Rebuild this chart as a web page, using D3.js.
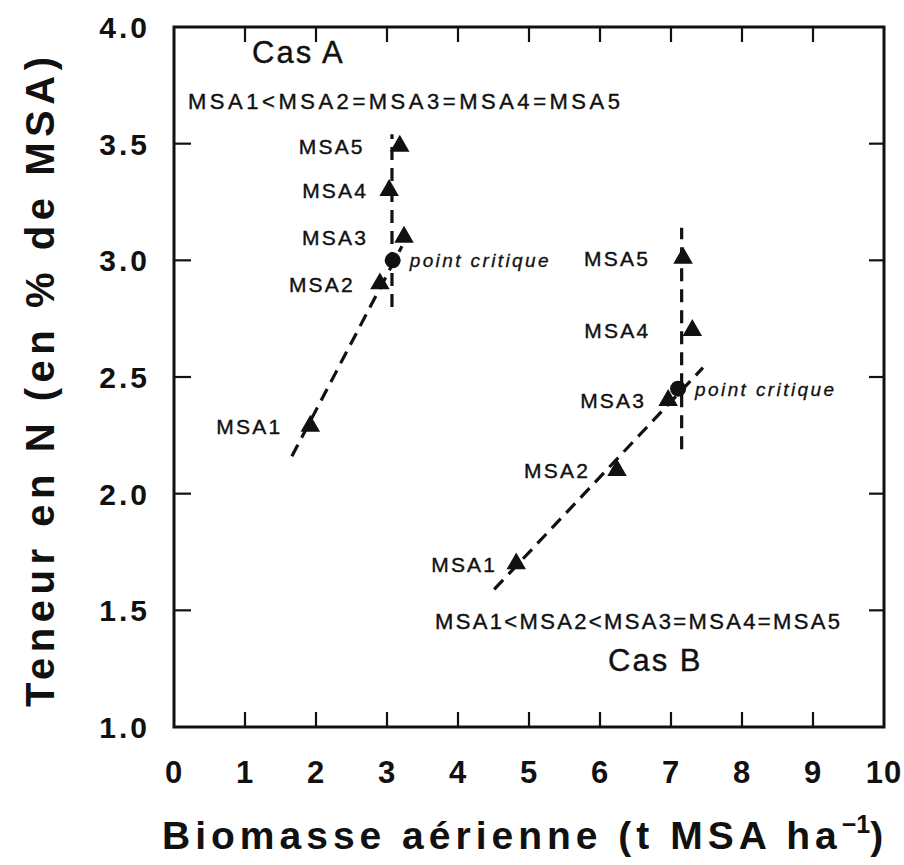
<!DOCTYPE html>
<html><head><meta charset="utf-8">
<script src="https://cdn.jsdelivr.net/npm/d3@7"></script>
<style>
body{margin:0;background:#fff;}
text{font-family:"Liberation Sans",Arial,Helvetica,sans-serif;fill:#111;}
</style></head>
<body><svg id="c" width="904" height="865"></svg>
<script>
// ---- data ----
const labels = ["MSA1","MSA2","MSA3","MSA4","MSA5"];
const casA_x = [1.92, 2.90, 3.24, 3.03, 3.18];
const casA_y = [2.29, 2.90, 3.10, 3.30, 3.49];
const casB_x = [4.82, 6.24, 6.96, 7.30, 7.17];
const casB_y = [1.70, 2.10, 2.40, 2.70, 3.01];
const critA = [3.08, 3.00];
const critB = [7.10, 2.45];
const lineA_diag = [[1.66, 2.16],[3.21, 3.06]];
const lineA_vert = [[3.07, 2.80],[3.07, 3.54]];
const lineB_diag = [[4.51, 1.59],[7.45, 2.54]];
const lineB_vert = [[7.15, 2.19],[7.15, 3.14]];
const xTicks = [0,1,2,3,4,5,6,7,8,9,10];
const yTicks = [1.0,1.5,2.0,2.5,3.0,3.5,4.0];
const orderA = "MSA1<MSA2=MSA3=MSA4=MSA5";
const orderB = "MSA1<MSA2<MSA3=MSA4=MSA5";

// ---- layout ----
const L=174, R=884, T=27, B=727;
const x = d3.scaleLinear().domain([0,10]).range([L,R]);
const y = d3.scaleLinear().domain([1,4]).range([B,T]);
const labelDxA = [28, 25, 36, 21, 35];
const labelDxB = [19, 27, 22, 42, 33];

const svg = d3.select("#c");

// frame
svg.append("rect").attr("x",L).attr("y",T).attr("width",R-L).attr("height",B-T)
  .attr("fill","none").attr("stroke","#111").attr("stroke-width",3);

// ticks (inward)
const tl = 15;
const g = svg.append("g").attr("stroke","#111").attr("stroke-width",2.2);
xTicks.filter(v=>v>0&&v<10).forEach(v=>{
  g.append("line").attr("x1",x(v)).attr("x2",x(v)).attr("y1",T).attr("y2",T+tl);
  g.append("line").attr("x1",x(v)).attr("x2",x(v)).attr("y1",B).attr("y2",B-tl);
});
yTicks.filter(v=>v>1&&v<4).forEach(v=>{
  g.append("line").attr("x1",L).attr("x2",L+tl+2).attr("y1",y(v)).attr("y2",y(v));
  g.append("line").attr("x1",R).attr("x2",R-tl).attr("y1",y(v)).attr("y2",y(v));
});

// tick labels
svg.append("g").selectAll("text").data(xTicks).join("text")
  .attr("x",d=>x(d)).attr("y",B+56).attr("text-anchor","middle")
  .attr("font-size",31).attr("font-weight","bold").attr("letter-spacing",1)
  .text(d=>d);
svg.append("g").selectAll("text").data(yTicks).join("text")
  .attr("x",L-24).attr("y",d=>y(d)+11).attr("text-anchor","end")
  .attr("font-size",30).attr("font-weight","bold").attr("letter-spacing",3)
  .text(d=>d.toFixed(1));

// axis titles
svg.append("text").attr("transform",`translate(54,382) rotate(-90)`)
  .attr("text-anchor","middle").attr("font-size",40).attr("font-weight","bold")
  .attr("textLength",650).attr("lengthAdjust","spacing")
  .text("Teneur en N (en % de MSA)");
const xt = svg.append("text").attr("x",162).attr("y",849)
  .attr("font-size",39).attr("font-weight","bold").attr("letter-spacing",5);
xt.append("tspan").text("Biomasse aérienne (t MSA ha");
xt.append("tspan").attr("dy",-16).attr("font-size",25).attr("letter-spacing",0).text("−1");
xt.append("tspan").attr("dy",16).text(")");

// dashed lines
const line = d3.line().x(d=>x(d[0])).y(d=>y(d[1]));
[lineA_diag,lineA_vert,lineB_diag,lineB_vert].forEach(p=>{
  svg.append("path").attr("d",line(p)).attr("fill","none").attr("stroke","#111")
    .attr("stroke-width",3.2).attr("stroke-dasharray","13,8");
});

// markers
const tri = d3.symbol().type(d3.symbolTriangle).size(165);
function drawSet(xs, ys, dxs){
  xs.forEach((xv,i)=>{
    svg.append("path").attr("d",tri()).attr("fill","#111")
      .attr("transform",`translate(${x(xv)},${y(ys[i])})`);
    svg.append("text").attr("x",x(xv)-dxs[i]).attr("y",y(ys[i])+8)
      .attr("text-anchor","end").attr("font-size",21).attr("letter-spacing",2.2)
      .attr("stroke","#111").attr("stroke-width",0.4)
      .text(labels[i]);
  });
}
drawSet(casA_x, casA_y, labelDxA);
drawSet(casB_x, casB_y, labelDxB);

[critA, critB].forEach(c=>{
  svg.append("circle").attr("cx",x(c[0])).attr("cy",y(c[1])).attr("r",8).attr("fill","#111");
  svg.append("text").attr("x",x(c[0])+17).attr("y",y(c[1])+7)
    .attr("font-size",19).attr("font-style","italic").attr("letter-spacing",2.4)
    .attr("stroke","#111").attr("stroke-width",0.3)
    .text("point critique");
});

// case annotations
svg.append("text").attr("x",252).attr("y",63).attr("font-size",31).attr("letter-spacing",2)
  .attr("stroke","#111").attr("stroke-width",0.4).text("Cas  A");
svg.append("text").attr("x",188).attr("y",109).attr("font-size",22)
  .attr("textLength",432).attr("lengthAdjust","spacing")
  .attr("stroke","#111").attr("stroke-width",0.4).text(orderA);
svg.append("text").attr("x",435).attr("y",629).attr("font-size",22)
  .attr("textLength",405).attr("lengthAdjust","spacing")
  .attr("stroke","#111").attr("stroke-width",0.4).text(orderB);
svg.append("text").attr("x",608).attr("y",671).attr("font-size",31).attr("letter-spacing",2)
  .attr("stroke","#111").attr("stroke-width",0.4).text("Cas  B");
</script></body></html>
